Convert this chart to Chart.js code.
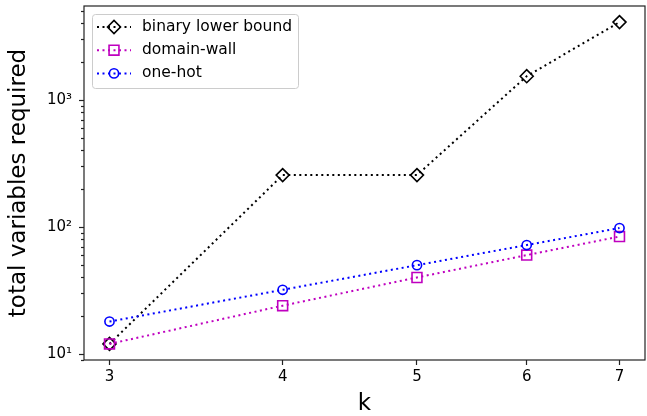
<!DOCTYPE html>
<html>
<head>
<meta charset="utf-8">
<script src="https://cdn.jsdelivr.net/npm/chart.js@4.4.0/dist/chart.umd.min.js"></script>
<style>
  body { margin: 0; background: #fff; }
  canvas { display: block; }
</style>
</head>
<body>
<canvas id="chart" width="647" height="416"></canvas>
<script>
const kValues = [3, 4, 5, 6, 7];
const binaryLowerBound = [12, 256, 256, 1536, 4096];
const domainWall = [12, 24, 40, 60, 84];
const oneHot = [18, 32, 50, 72, 98];
const yMajorTicks = [10, 100, 1000];
const yTickLabels = ["10\u00b9", "10\u00b2", "10\u00b3"];

const FONT = "'DejaVu Sans', sans-serif";

// matplotlib-like 5% margins in log space
function logRange(values) {
  const lo = Math.log(Math.min(...values));
  const hi = Math.log(Math.max(...values));
  const pad = (hi - lo) * 0.05;
  return [Math.exp(lo - pad), Math.exp(hi + pad)];
}
const [xMin, xMax] = logRange(kValues);
const [yMin, yMax] = logRange(binaryLowerBound.concat(domainWall, oneHot));

function toPoints(values) {
  return kValues.map((k, i) => ({ x: k, y: values[i] }));
}

const series = [
  { label: "binary lower bound", data: binaryLowerBound, color: "#000000", style: "rectRot", radius: 6.5, order: 3 },
  { label: "domain-wall", data: domainWall, color: "#bf00bf", style: "rect", radius: 7, order: 2 },
  { label: "one-hot", data: oneHot, color: "#0000ff", style: "circle", radius: 4.6, order: 1 },
];

const DASH = [2, 3.5];

function noEdgePadding(scale) {
  scale.paddingTop = 0;
  scale.paddingBottom = 0;
  scale.paddingLeft = 0;
  scale.paddingRight = 0;
}

// frame + y tick marks (major and minor)
const framePlugin = {
  id: "frame",
  afterDatasetsDraw(chart) {
    const { ctx, chartArea: a } = chart;
    const y = chart.scales.y;
    ctx.save();
    ctx.strokeStyle = "#222";
    ctx.lineWidth = 1.2;
    for (let dec = 1; dec <= 1000; dec *= 10) {
      for (let m = 1; m <= 9; m++) {
        const v = m * dec;
        if (v < yMin || v > yMax) continue;
        const py = Math.round(y.getPixelForValue(v)) + 0.5;
        const len = m === 1 ? 5 : 3;
        ctx.beginPath();
        ctx.moveTo(a.left - len, py);
        ctx.lineTo(a.left, py);
        ctx.stroke();
      }
    }
    ctx.strokeRect(a.left, a.top, a.right - a.left, a.bottom - a.top);
    ctx.restore();
  },
};

function drawMarker(ctx, s, x, y) {
  ctx.beginPath();
  if (s.style === "circle") {
    ctx.arc(x, y, s.radius, 0, Math.PI * 2);
  } else if (s.style === "rect") {
    const h = s.radius * Math.SQRT1_2;
    ctx.rect(x - h, y - h, 2 * h, 2 * h);
  } else {
    ctx.moveTo(x - s.radius, y);
    ctx.lineTo(x, y - s.radius);
    ctx.lineTo(x + s.radius, y);
    ctx.lineTo(x, y + s.radius);
    ctx.closePath();
  }
  ctx.stroke();
}

const legendPlugin = {
  id: "boxLegend",
  afterDraw(chart) {
    const ctx = chart.ctx;
    const box = { x: 92, y: 14, w: 206, h: 74, r: 3 };
    ctx.save();
    ctx.beginPath();
    ctx.roundRect(box.x + 0.5, box.y + 0.5, box.w, box.h, box.r);
    ctx.fillStyle = "rgba(255,255,255,0.8)";
    ctx.fill();
    ctx.strokeStyle = "#cccccc";
    ctx.lineWidth = 1;
    ctx.stroke();

    series.forEach((s, i) => {
      const ry = 27 + i * 23.2;
      ctx.strokeStyle = s.color;
      ctx.lineWidth = 2;
      ctx.setLineDash(DASH);
      ctx.beginPath();
      ctx.moveTo(97, ry);
      ctx.lineTo(131, ry);
      ctx.stroke();
      ctx.setLineDash([]);
      ctx.lineWidth = 1.6;
      drawMarker(ctx, s, 114, ry);
      ctx.fillStyle = "#000";
      ctx.font = "15.5px " + FONT;
      ctx.textBaseline = "middle";
      ctx.textAlign = "left";
      ctx.fillText(s.label, 142, ry);
    });
    ctx.restore();
  },
};

new Chart(document.getElementById("chart").getContext("2d"), {
  type: "line",
  data: {
    datasets: series.map((s) => ({
      label: s.label,
      data: toPoints(s.data),
      order: s.order,
      borderColor: s.color,
      borderWidth: 2,
      borderDash: DASH,
      borderCapStyle: "butt",
      fill: false,
      tension: 0,
      pointStyle: s.style,
      pointRadius: s.radius,
      pointBorderColor: s.color,
      pointBackgroundColor: "rgba(0,0,0,0)",
      pointBorderWidth: 1.6,
    })),
  },
  options: {
    responsive: false,
    animation: false,
    layout: { autoPadding: false, padding: { top: 6, right: 2, left: 0, bottom: 0 } },
    plugins: {
      legend: { display: false },
      tooltip: { enabled: false },
    },
    scales: {
      x: {
        type: "logarithmic",
        min: xMin,
        max: xMax,
        afterFit(scale) {
          scale.height = 56;
          noEdgePadding(scale);
        },
        afterBuildTicks(scale) {
          scale.ticks = kValues.map((v) => ({ value: v }));
        },
        ticks: {
          callback: (v) => String(v),
          autoSkip: false,
          maxRotation: 0,
          padding: 3,
          color: "#000",
          font: { family: FONT, size: 15 },
        },
        grid: {
          drawOnChartArea: false,
          drawTicks: true,
          tickLength: 5,
          tickColor: "#222",
          tickWidth: 1.2,
        },
        border: { display: false },
        title: {
          display: true,
          text: "k",
          color: "#000",
          padding: 0,
          font: { family: FONT, size: 23, lineHeight: 1 },
        },
      },
      y: {
        type: "logarithmic",
        min: yMin,
        max: yMax,
        afterFit(scale) {
          scale.width = 84;
          noEdgePadding(scale);
        },
        afterBuildTicks(scale) {
          scale.ticks = yMajorTicks.map((v) => ({ value: v }));
        },
        ticks: {
          callback: (v) => yTickLabels[yMajorTicks.indexOf(v)],
          padding: 12,
          color: "#000",
          font: { family: FONT, size: 15 },
        },
        grid: { display: false, drawTicks: false },
        border: { display: false },
        title: {
          display: true,
          text: "total variables required",
          color: "#000",
          padding: { top: 8, bottom: 0 },
          font: { family: FONT, size: 23, lineHeight: 1 },
        },
      },
    },
  },
  plugins: [framePlugin, legendPlugin],
});
</script>
</body>
</html>
